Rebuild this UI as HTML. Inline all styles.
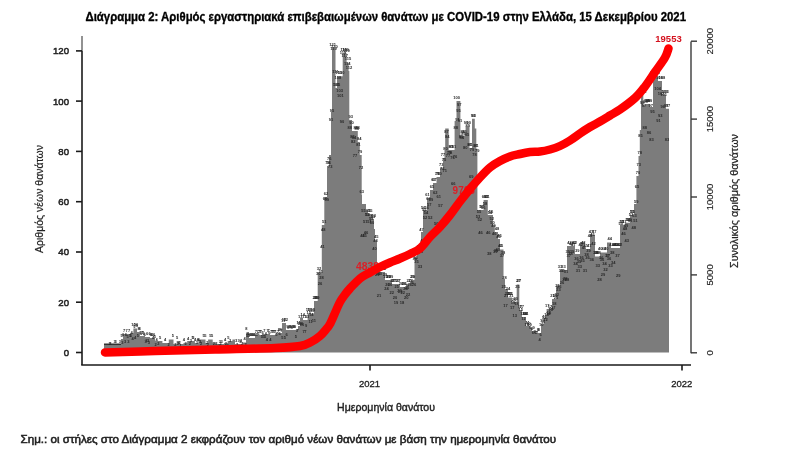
<!DOCTYPE html>
<html><head><meta charset="utf-8"><style>
html,body{margin:0;padding:0;background:#fff;width:800px;height:460px;overflow:hidden}
svg{display:block;filter:blur(0.35px)}
text{font-family:"Liberation Sans",sans-serif}
</style></head><body>
<svg width="800" height="460" viewBox="0 0 800 460">
<rect width="800" height="460" fill="#fff"/>
<text x="85.5" y="21" font-size="13" font-weight="bold" fill="#000" stroke="#000" stroke-width="0.35" textLength="600.5" lengthAdjust="spacingAndGlyphs">Διάγραμμα 2: Αριθμός εργαστηριακά επιβεβαιωμένων θανάτων με COVID-19 στην Ελλάδα, 15 Δεκεμβρίου 2021</text>
<path d="M104,352.5 L104.0,345.5 L121.0,345.5 L121.0,339.0 L123.0,339.0 L123.0,334.0 L130.0,334.0 L130.0,333.0 L133.4,333.0 L133.4,328.4 L137.0,328.4 L137.0,332.0 L140.0,332.0 L140.0,336.0 L145.0,336.0 L145.0,337.0 L150.0,337.0 L150.0,338.0 L155.0,338.0 L155.0,341.0 L159.0,341.0 L159.0,341.0 L162.4,341.0 L162.4,343.0 L166.1,343.0 L166.1,343.0 L168.8,343.0 L168.8,339.5 L173.5,339.5 L173.5,344.0 L176.7,344.0 L176.7,341.0 L179.7,341.0 L179.7,344.0 L183.5,344.0 L183.5,343.0 L187.2,343.0 L187.2,341.0 L190.3,341.0 L190.3,341.0 L194.9,341.0 L194.9,343.0 L198.4,343.0 L198.4,339.5 L202.6,339.5 L202.6,339.5 L205.5,339.5 L205.5,343.0 L208.1,343.0 L208.1,339.5 L212.7,339.5 L212.7,342.5 L216.3,342.5 L216.3,344.0 L220.6,344.0 L220.6,344.0 L224.1,344.0 L224.1,343.0 L227.7,343.0 L227.7,341.0 L232.4,341.0 L232.4,339.5 L235.0,339.5 L235.0,344.0 L238.1,344.0 L238.1,344.0 L242.5,344.0 L242.5,342.5 L246.0,342.5 L246.0,332.6 L249.0,332.6 L249.0,338.0 L255.0,338.0 L255.0,335.0 L262.0,335.0 L262.0,334.0 L270.0,334.0 L270.0,335.0 L278.0,335.0 L278.0,333.0 L282.0,333.0 L282.0,323.0 L286.0,323.0 L286.0,330.0 L292.0,330.0 L292.0,330.0 L298.0,330.0 L298.0,326.0 L300.0,326.0 L300.0,318.0 L303.0,318.0 L303.0,320.0 L307.6,320.0 L307.6,313.6 L314.0,313.6 L314.0,301.0 L317.7,301.0 L317.7,272.5 L321.8,272.5 L321.8,225.0 L324.3,225.0 L324.3,197.0 L327.0,197.0 L327.0,166.0 L329.0,166.0 L329.0,155.0 L331.0,155.0 L331.0,112.0 L332.0,112.0 L332.0,48.0 L335.5,48.0 L335.5,88.0 L337.0,88.0 L337.0,76.2 L342.7,76.2 L342.7,53.3 L346.6,53.3 L346.6,62.5 L348.6,62.5 L348.6,71.0 L349.3,71.0 L349.3,120.0 L352.0,120.0 L352.0,131.0 L357.8,131.0 L357.8,142.0 L359.8,142.0 L359.8,155.0 L361.7,155.0 L361.7,195.0 L362.0,195.0 L362.0,204.0 L366.0,204.0 L366.0,210.0 L368.0,210.0 L368.0,214.0 L372.6,214.0 L372.6,219.0 L374.0,219.0 L374.0,229.0 L375.0,229.0 L375.0,240.0 L377.0,240.0 L377.0,272.0 L385.0,272.0 L385.0,280.0 L392.0,280.0 L392.0,284.0 L400.0,284.0 L400.0,287.0 L406.0,287.0 L406.0,284.0 L411.0,284.0 L411.0,280.0 L414.5,280.0 L414.5,258.0 L417.0,258.0 L417.0,250.0 L421.0,250.0 L421.0,232.0 L423.0,232.0 L423.0,210.0 L427.0,210.0 L427.0,198.0 L430.0,198.0 L430.0,190.0 L433.0,190.0 L433.0,183.0 L436.5,183.0 L436.5,177.0 L440.0,177.0 L440.0,168.0 L443.0,168.0 L443.0,158.0 L444.5,158.0 L444.5,150.0 L445.2,150.0 L445.2,128.5 L448.7,128.5 L448.7,150.0 L454.6,150.0 L454.6,121.0 L456.5,121.0 L456.5,101.0 L460.4,101.0 L460.4,135.6 L465.6,135.6 L465.6,126.5 L469.5,126.5 L469.5,148.0 L472.0,148.0 L472.0,118.7 L474.8,118.7 L474.8,128.5 L476.3,128.5 L476.3,148.7 L477.4,148.7 L477.4,210.0 L483.6,210.0 L483.6,200.0 L487.8,200.0 L487.8,215.0 L493.0,215.0 L493.0,225.0 L494.8,225.0 L494.8,232.0 L498.0,232.0 L498.0,239.0 L500.0,239.0 L500.0,249.6 L503.5,249.6 L503.5,279.0 L505.0,279.0 L505.0,289.0 L508.0,289.0 L508.0,297.6 L512.0,297.6 L512.0,301.8 L516.7,301.8 L516.7,284.6 L519.3,284.6 L519.3,310.0 L522.0,310.0 L522.0,317.0 L526.0,317.0 L526.0,326.0 L530.0,326.0 L530.0,331.0 L536.0,331.0 L536.0,333.0 L541.0,333.0 L541.0,324.0 L543.7,324.0 L543.7,318.0 L546.6,318.0 L546.6,309.0 L552.0,309.0 L552.0,299.0 L556.0,299.0 L556.0,286.0 L560.0,286.0 L560.0,270.0 L567.0,270.0 L567.0,246.0 L575.0,246.0 L575.0,254.0 L580.0,254.0 L580.0,242.0 L585.0,242.0 L585.0,249.0 L590.0,249.0 L590.0,235.0 L595.0,235.0 L595.0,256.5 L600.0,256.5 L600.0,252.6 L607.0,252.6 L607.0,242.4 L611.0,242.4 L611.0,248.0 L620.0,248.0 L620.0,224.8 L625.0,224.8 L625.0,222.8 L630.0,222.8 L630.0,215.0 L634.0,215.0 L634.0,204.0 L636.4,204.0 L636.4,176.0 L638.5,176.0 L638.5,156.0 L639.8,156.0 L639.8,130.0 L641.0,130.0 L641.0,94.8 L643.3,94.8 L643.3,105.0 L646.0,105.0 L646.0,104.0 L650.0,104.0 L650.0,107.0 L653.0,107.0 L653.0,76.5 L658.0,76.5 L658.0,80.9 L662.0,80.9 L662.0,94.8 L666.0,94.8 L666.0,108.7 L669.0,108.7 L669,352.5 Z" fill="#7c7c7c"/>
<rect x="104" y="343.5" width="17" height="2" fill="#333"/>
<g font-size="4" font-weight="bold" fill="#282828" text-anchor="middle"><text x="109.6" y="345.2">2</text><text x="110.4" y="345.2">2</text><text x="114.7" y="343.3">3</text><text x="115.5" y="343.3">3</text><text x="119.8" y="343.3">3</text><text x="121.5" y="337.1">5</text><text x="122.4" y="343.6">3</text><text x="123.2" y="335.9">6</text><text x="124.1" y="331.8">7</text><text x="125.0" y="342.9">3</text><text x="125.8" y="335.9">6</text><text x="126.7" y="331.8">7</text><text x="127.5" y="337.6">5</text><text x="128.4" y="342.9">3</text><text x="129.2" y="331.8">7</text><text x="130.1" y="336.5">5</text><text x="130.9" y="336.9">5</text><text x="131.8" y="334.1">6</text><text x="132.6" y="340.0">4</text><text x="133.5" y="326.2">10</text><text x="134.4" y="327.9">9</text><text x="135.2" y="339.2">4</text><text x="136.1" y="326.2">10</text><text x="136.9" y="326.8">9</text><text x="137.8" y="336.9">5</text><text x="138.6" y="329.8">8</text><text x="139.5" y="329.8">8</text><text x="140.3" y="333.8">7</text><text x="141.2" y="334.7">6</text><text x="142.1" y="333.8">7</text><text x="142.9" y="333.8">7</text><text x="143.8" y="335.4">6</text><text x="144.6" y="335.5">6</text><text x="145.5" y="342.5">3</text><text x="146.3" y="341.8">3</text><text x="147.2" y="334.8">6</text><text x="148.0" y="342.2">3</text><text x="148.9" y="343.8">3</text><text x="149.7" y="334.8">6</text><text x="150.6" y="335.8">6</text><text x="151.5" y="335.8">6</text><text x="152.3" y="335.8">6</text><text x="153.2" y="339.4">4</text><text x="154.0" y="335.8">6</text><text x="154.9" y="338.1">5</text><text x="155.7" y="345.7">2</text><text x="156.6" y="341.0">4</text><text x="158.3" y="344.9">2</text><text x="160.0" y="338.8">5</text><text x="165.1" y="340.8">4</text><text x="168.6" y="346.4">2</text><text x="172.8" y="337.3">5</text><text x="175.4" y="346.0">2</text><text x="177.1" y="338.8">5</text><text x="178.0" y="344.5">2</text><text x="179.7" y="344.1">2</text><text x="180.5" y="346.9">1</text><text x="183.9" y="340.8">4</text><text x="185.7" y="344.8">2</text><text x="188.2" y="340.1">4</text><text x="189.9" y="344.9">2</text><text x="190.8" y="342.4">3</text><text x="192.5" y="338.8">5</text><text x="193.4" y="338.8">5</text><text x="195.1" y="341.2">4</text><text x="196.8" y="343.5">3</text><text x="197.6" y="340.8">4</text><text x="198.5" y="341.1">4</text><text x="200.2" y="342.5">3</text><text x="201.0" y="345.1">2</text><text x="203.6" y="337.3">5</text><text x="205.3" y="337.3">5</text><text x="207.0" y="344.4">2</text><text x="207.9" y="346.2">2</text><text x="210.4" y="337.3">5</text><text x="212.2" y="337.4">5</text><text x="213.9" y="344.8">2</text><text x="216.4" y="345.1">2</text><text x="219.0" y="346.7">1</text><text x="219.9" y="343.3">3</text><text x="220.7" y="344.8">2</text><text x="221.6" y="342.9">3</text><text x="225.0" y="340.8">4</text><text x="225.8" y="344.7">2</text><text x="227.6" y="346.5">2</text><text x="228.4" y="338.8">5</text><text x="230.1" y="341.5">3</text><text x="236.1" y="341.8">3</text><text x="237.0" y="345.6">2</text><text x="238.7" y="341.8">3</text><text x="240.4" y="343.2">3</text><text x="241.2" y="341.8">3</text><text x="242.1" y="344.7">2</text><text x="244.7" y="340.3">4</text><text x="245.5" y="346.3">2</text><text x="246.4" y="330.4">8</text><text x="247.2" y="336.7">5</text><text x="248.1" y="334.7">6</text><text x="248.9" y="337.2">5</text><text x="249.8" y="335.8">6</text><text x="250.6" y="335.8">6</text><text x="251.5" y="336.0">6</text><text x="252.3" y="335.8">6</text><text x="253.2" y="335.8">6</text><text x="254.1" y="335.8">6</text><text x="254.9" y="335.8">6</text><text x="255.8" y="332.8">7</text><text x="256.6" y="335.7">6</text><text x="257.5" y="332.8">7</text><text x="258.3" y="335.2">6</text><text x="259.2" y="332.8">7</text><text x="260.0" y="332.8">7</text><text x="260.9" y="332.8">7</text><text x="261.8" y="337.8">5</text><text x="262.6" y="334.4">6</text><text x="263.5" y="338.3">5</text><text x="264.3" y="331.8">7</text><text x="265.2" y="338.3">5</text><text x="266.0" y="334.8">6</text><text x="266.9" y="341.2">4</text><text x="267.7" y="332.2">7</text><text x="268.6" y="331.8">7</text><text x="269.4" y="334.1">6</text><text x="270.3" y="341.0">4</text><text x="271.2" y="332.8">7</text><text x="272.0" y="332.8">7</text><text x="272.9" y="332.8">7</text><text x="273.7" y="332.8">7</text><text x="274.6" y="332.9">7</text><text x="275.4" y="332.8">7</text><text x="276.3" y="336.4">6</text><text x="277.1" y="335.1">6</text><text x="278.0" y="332.8">7</text><text x="278.8" y="330.8">8</text><text x="279.7" y="335.3">6</text><text x="280.6" y="330.8">8</text><text x="281.4" y="332.1">7</text><text x="282.3" y="338.5">5</text><text x="283.1" y="321.5">11</text><text x="284.0" y="320.8">12</text><text x="284.8" y="338.5">5</text><text x="285.7" y="320.8">12</text><text x="286.5" y="335.7">6</text><text x="287.4" y="327.8">9</text><text x="288.3" y="329.1">8</text><text x="289.1" y="327.8">9</text><text x="290.0" y="327.8">9</text><text x="290.8" y="327.8">9</text><text x="291.7" y="329.2">8</text><text x="292.5" y="327.8">9</text><text x="293.4" y="327.8">9</text><text x="294.2" y="328.2">9</text><text x="295.1" y="327.8">9</text><text x="295.9" y="337.7">5</text><text x="296.8" y="332.4">7</text><text x="297.7" y="331.6">7</text><text x="298.5" y="323.8">11</text><text x="299.4" y="325.2">10</text><text x="300.2" y="317.8">13</text><text x="301.1" y="325.3">10</text><text x="301.9" y="325.6">10</text><text x="302.8" y="315.8">14</text><text x="303.6" y="333.2">7</text><text x="304.5" y="318.2">13</text><text x="305.4" y="332.6">7</text><text x="306.2" y="326.5">9</text><text x="307.1" y="318.1">13</text><text x="307.9" y="311.4">15</text><text x="308.8" y="313.6">15</text><text x="309.6" y="311.4">15</text><text x="310.5" y="323.1">11</text><text x="311.3" y="315.9">14</text><text x="312.2" y="312.1">15</text><text x="313.1" y="311.4">15</text><text x="313.9" y="322.4">11</text><text x="314.8" y="299.0">20</text><text x="315.6" y="298.8">20</text><text x="316.5" y="298.9">20</text><text x="317.3" y="298.8">20</text><text x="318.2" y="275.3">30</text><text x="319.0" y="270.3">32</text><text x="319.9" y="285.0">26</text><text x="320.7" y="272.6">31</text><text x="321.6" y="279.1">28</text><text x="322.5" y="247.9">41</text><text x="323.3" y="230.8">48</text><text x="324.2" y="222.8">51</text><text x="325.0" y="199.5">60</text><text x="325.9" y="194.8">62</text><text x="326.7" y="201.1">59</text><text x="327.6" y="163.8">74</text><text x="328.4" y="164.3">74</text><text x="329.3" y="160.3">76</text><text x="330.2" y="167.6">73</text><text x="331.0" y="120.7">91</text><text x="331.9" y="112.1">95</text><text x="332.7" y="45.8">121</text><text x="333.6" y="50.1">119</text><text x="334.4" y="47.6">120</text><text x="335.3" y="72.5">111</text><text x="336.1" y="85.8">105</text><text x="337.0" y="85.8">105</text><text x="337.8" y="79.2">108</text><text x="338.7" y="74.0">110</text><text x="339.6" y="92.2">103</text><text x="340.4" y="96.5">101</text><text x="341.3" y="74.0">110</text><text x="342.1" y="123.4">90</text><text x="343.0" y="53.9">118</text><text x="343.8" y="51.1">119</text><text x="344.7" y="56.6">117</text><text x="345.5" y="51.1">119</text><text x="346.4" y="51.6">119</text><text x="347.2" y="64.6">114</text><text x="348.1" y="60.3">115</text><text x="349.0" y="68.8">112</text><text x="349.8" y="129.1">88</text><text x="350.7" y="117.8">93</text><text x="351.5" y="123.6">90</text><text x="352.4" y="137.9">85</text><text x="353.2" y="143.1">82</text><text x="354.1" y="139.0">84</text><text x="354.9" y="157.1">77</text><text x="355.8" y="129.0">88</text><text x="356.7" y="129.9">88</text><text x="357.5" y="128.8">88</text><text x="358.4" y="146.2">81</text><text x="359.2" y="139.8">84</text><text x="360.1" y="152.9">79</text><text x="360.9" y="168.6">72</text><text x="361.8" y="192.8">63</text><text x="362.6" y="236.5">45</text><text x="363.5" y="211.6">55</text><text x="364.4" y="237.2">45</text><text x="365.2" y="223.2">51</text><text x="366.1" y="234.1">46</text><text x="366.9" y="216.3">53</text><text x="367.8" y="216.4">53</text><text x="368.6" y="211.8">55</text><text x="369.5" y="222.7">51</text><text x="370.3" y="211.8">55</text><text x="371.2" y="219.6">52</text><text x="372.0" y="223.5">50</text><text x="372.9" y="218.3">53</text><text x="373.8" y="216.8">53</text><text x="374.6" y="249.9">40</text><text x="375.5" y="242.3">43</text><text x="376.3" y="237.8">45</text><text x="377.2" y="276.4">29</text><text x="378.0" y="275.0">30</text><text x="378.9" y="297.2">21</text><text x="379.7" y="275.2">30</text><text x="380.6" y="269.8">32</text><text x="381.4" y="269.8">32</text><text x="382.3" y="269.8">32</text><text x="383.2" y="269.8">32</text><text x="384.0" y="269.8">32</text><text x="384.9" y="276.2">29</text><text x="385.7" y="277.8">29</text><text x="386.6" y="290.3">24</text><text x="387.4" y="285.7">26</text><text x="388.3" y="277.8">29</text><text x="389.1" y="277.8">29</text><text x="390.0" y="285.5">26</text><text x="390.9" y="277.8">29</text><text x="391.7" y="294.4">22</text><text x="392.6" y="281.8">27</text><text x="393.4" y="281.8">27</text><text x="394.3" y="281.8">27</text><text x="395.1" y="298.9">20</text><text x="396.0" y="303.8">19</text><text x="396.8" y="288.3">25</text><text x="397.7" y="281.8">27</text><text x="398.6" y="281.8">27</text><text x="399.4" y="292.4">23</text><text x="400.3" y="292.8">23</text><text x="401.1" y="284.8">26</text><text x="402.0" y="304.1">18</text><text x="402.8" y="294.4">22</text><text x="403.7" y="284.9">26</text><text x="404.5" y="284.8">26</text><text x="405.4" y="290.3">24</text><text x="406.2" y="299.4">20</text><text x="407.1" y="288.6">25</text><text x="408.0" y="296.2">22</text><text x="408.8" y="281.8">27</text><text x="409.7" y="285.8">26</text><text x="410.5" y="281.8">27</text><text x="411.4" y="284.1">26</text><text x="412.2" y="277.8">29</text><text x="413.1" y="277.8">29</text><text x="413.9" y="286.0">26</text><text x="414.8" y="259.8">36</text><text x="415.6" y="259.2">36</text><text x="416.5" y="263.3">35</text><text x="417.4" y="254.4">38</text><text x="418.2" y="247.8">41</text><text x="419.1" y="247.8">41</text><text x="419.9" y="267.9">33</text><text x="420.8" y="253.1">39</text><text x="421.6" y="230.9">47</text><text x="422.5" y="241.5">43</text><text x="423.3" y="209.1">56</text><text x="424.2" y="211.1">55</text><text x="425.1" y="219.3">52</text><text x="425.9" y="214.1">54</text><text x="426.8" y="208.5">56</text><text x="427.6" y="195.8">61</text><text x="428.5" y="200.4">60</text><text x="429.3" y="206.0">57</text><text x="430.2" y="218.6">52</text><text x="431.0" y="201.2">59</text><text x="431.9" y="187.8">65</text><text x="432.8" y="234.0">46</text><text x="433.6" y="180.8">67</text><text x="434.5" y="180.8">67</text><text x="435.3" y="193.6">62</text><text x="436.2" y="224.8">50</text><text x="437.0" y="174.8">70</text><text x="437.9" y="174.8">70</text><text x="438.7" y="198.2">61</text><text x="439.6" y="174.8">70</text><text x="440.4" y="206.5">57</text><text x="441.3" y="165.8">73</text><text x="442.2" y="169.8">72</text><text x="443.0" y="155.8">77</text><text x="443.9" y="160.9">75</text><text x="444.7" y="172.3">71</text><text x="445.6" y="149.5">80</text><text x="446.4" y="132.8">87</text><text x="447.3" y="138.3">84</text><text x="448.1" y="157.2">77</text><text x="449.0" y="153.8">78</text><text x="449.9" y="153.9">78</text><text x="450.7" y="147.8">81</text><text x="451.6" y="147.8">81</text><text x="452.4" y="158.6">76</text><text x="453.3" y="185.2">66</text><text x="454.1" y="147.8">81</text><text x="455.0" y="158.1">76</text><text x="455.8" y="128.9">88</text><text x="456.7" y="98.8">100</text><text x="457.5" y="120.5">91</text><text x="458.4" y="111.8">95</text><text x="459.3" y="106.0">97</text><text x="460.1" y="121.7">91</text><text x="461.0" y="137.5">85</text><text x="461.8" y="138.8">84</text><text x="462.7" y="133.4">86</text><text x="463.5" y="134.8">86</text><text x="464.4" y="133.4">86</text><text x="465.2" y="148.8">80</text><text x="466.1" y="124.3">90</text><text x="466.9" y="135.9">85</text><text x="467.8" y="126.9">89</text><text x="468.7" y="124.3">90</text><text x="469.5" y="145.8">81</text><text x="470.4" y="145.8">81</text><text x="471.2" y="178.1">69</text><text x="472.1" y="151.3">79</text><text x="472.9" y="116.5">93</text><text x="473.8" y="116.5">93</text><text x="474.6" y="155.5">78</text><text x="475.5" y="146.5">81</text><text x="476.4" y="146.5">81</text><text x="477.2" y="152.3">79</text><text x="478.1" y="217.5">53</text><text x="478.9" y="212.5">55</text><text x="479.8" y="220.7">52</text><text x="480.6" y="234.1">46</text><text x="481.5" y="207.8">57</text><text x="482.3" y="207.8">57</text><text x="483.2" y="209.2">56</text><text x="484.1" y="197.8">61</text><text x="484.9" y="204.8">58</text><text x="485.8" y="197.8">61</text><text x="486.6" y="197.8">61</text><text x="487.5" y="197.8">61</text><text x="488.3" y="234.3">46</text><text x="489.2" y="254.5">38</text><text x="490.0" y="213.5">54</text><text x="490.9" y="212.8">55</text><text x="491.7" y="219.8">52</text><text x="492.6" y="224.4">50</text><text x="493.5" y="226.6">49</text><text x="494.3" y="235.1">46</text><text x="495.2" y="252.9">39</text><text x="496.0" y="251.5">39</text><text x="496.9" y="229.8">48</text><text x="497.7" y="250.5">40</text><text x="498.6" y="237.6">45</text><text x="499.4" y="236.8">45</text><text x="500.3" y="247.4">41</text><text x="501.1" y="247.4">41</text><text x="502.0" y="257.0">37</text><text x="502.9" y="254.1">38</text><text x="503.7" y="287.7">25</text><text x="504.6" y="279.4">28</text><text x="505.4" y="307.3">17</text><text x="506.3" y="297.1">21</text><text x="507.1" y="294.5">22</text><text x="508.0" y="289.6">24</text><text x="508.8" y="295.4">22</text><text x="509.7" y="295.4">22</text><text x="510.6" y="295.4">22</text><text x="511.4" y="297.0">21</text><text x="512.3" y="308.5">17</text><text x="513.1" y="303.8">19</text><text x="514.0" y="300.7">20</text><text x="514.8" y="317.2">13</text><text x="515.7" y="299.6">20</text><text x="516.5" y="304.8">18</text><text x="517.4" y="288.0">25</text><text x="518.2" y="282.4">27</text><text x="519.1" y="282.4">27</text><text x="520.0" y="307.8">17</text><text x="520.8" y="311.4">15</text><text x="521.7" y="307.8">17</text><text x="522.5" y="314.8">14</text><text x="523.4" y="319.5">12</text><text x="524.2" y="314.8">14</text><text x="525.1" y="314.8">14</text><text x="525.9" y="314.8">14</text><text x="526.8" y="326.3">10</text><text x="527.7" y="323.8">11</text><text x="528.5" y="324.6">10</text><text x="529.4" y="325.9">10</text><text x="530.2" y="328.8">9</text><text x="531.1" y="331.0">8</text><text x="531.9" y="330.0">8</text><text x="532.8" y="334.3">6</text><text x="533.6" y="328.8">9</text><text x="534.5" y="333.1">7</text><text x="535.4" y="334.2">6</text><text x="536.2" y="333.5">7</text><text x="537.1" y="334.0">7</text><text x="537.9" y="330.8">8</text><text x="538.8" y="330.8">8</text><text x="539.6" y="341.2">4</text><text x="540.5" y="336.2">6</text><text x="541.3" y="326.2">10</text><text x="542.2" y="321.8">11</text><text x="543.0" y="322.9">11</text><text x="543.9" y="318.9">13</text><text x="544.8" y="317.7">13</text><text x="545.6" y="320.5">12</text><text x="546.5" y="315.8">14</text><text x="547.3" y="306.9">17</text><text x="548.2" y="315.3">14</text><text x="549.0" y="313.7">15</text><text x="549.9" y="308.4">17</text><text x="550.7" y="311.4">15</text><text x="551.6" y="309.9">16</text><text x="552.4" y="297.2">21</text><text x="553.3" y="308.8">17</text><text x="554.2" y="305.0">18</text><text x="555.0" y="296.8">21</text><text x="555.9" y="298.7">21</text><text x="556.7" y="295.5">22</text><text x="557.6" y="287.1">25</text><text x="558.4" y="291.2">23</text><text x="559.3" y="288.2">25</text><text x="560.1" y="267.8">33</text><text x="561.0" y="272.2">31</text><text x="561.9" y="283.9">26</text><text x="562.7" y="272.1">31</text><text x="563.6" y="267.8">33</text><text x="564.4" y="280.8">28</text><text x="565.3" y="279.6">28</text><text x="566.1" y="272.5">31</text><text x="567.0" y="280.5">28</text><text x="567.8" y="252.5">39</text><text x="568.7" y="257.3">37</text><text x="569.5" y="243.8">42</text><text x="570.4" y="254.6">38</text><text x="571.3" y="244.5">42</text><text x="572.1" y="252.7">39</text><text x="573.0" y="246.2">41</text><text x="573.8" y="243.8">42</text><text x="574.7" y="243.8">42</text><text x="575.5" y="264.6">34</text><text x="576.4" y="260.1">36</text><text x="577.2" y="251.8">39</text><text x="578.1" y="271.8">31</text><text x="579.0" y="263.2">35</text><text x="579.8" y="267.6">33</text><text x="580.7" y="245.7">42</text><text x="581.5" y="259.2">36</text><text x="582.4" y="262.1">35</text><text x="583.2" y="243.7">42</text><text x="584.1" y="248.8">40</text><text x="584.9" y="272.0">31</text><text x="585.8" y="246.8">41</text><text x="586.6" y="255.5">38</text><text x="587.5" y="259.2">36</text><text x="588.4" y="252.2">39</text><text x="589.2" y="246.8">41</text><text x="590.1" y="237.2">45</text><text x="590.9" y="232.8">47</text><text x="591.8" y="260.9">36</text><text x="592.6" y="235.9">46</text><text x="593.5" y="244.5">42</text><text x="594.3" y="232.8">47</text><text x="595.2" y="254.3">38</text><text x="596.1" y="254.3">38</text><text x="596.9" y="254.3">38</text><text x="597.8" y="267.0">33</text><text x="598.6" y="254.3">38</text><text x="599.5" y="281.2">28</text><text x="600.3" y="250.4">40</text><text x="601.2" y="259.2">36</text><text x="602.0" y="260.6">36</text><text x="602.9" y="276.3">29</text><text x="603.7" y="250.4">40</text><text x="604.6" y="264.6">34</text><text x="605.5" y="270.5">32</text><text x="606.3" y="250.4">40</text><text x="607.2" y="256.7">37</text><text x="608.0" y="256.5">37</text><text x="608.9" y="259.8">36</text><text x="609.7" y="240.2">44</text><text x="610.6" y="266.7">33</text><text x="611.4" y="245.8">42</text><text x="612.3" y="253.9">38</text><text x="613.2" y="264.3">34</text><text x="614.0" y="245.8">42</text><text x="614.9" y="245.8">42</text><text x="615.7" y="245.8">42</text><text x="616.6" y="245.8">42</text><text x="617.4" y="256.9">37</text><text x="618.3" y="276.7">29</text><text x="619.1" y="245.8">42</text><text x="620.0" y="245.8">42</text><text x="620.8" y="225.3">50</text><text x="621.7" y="222.6">51</text><text x="622.6" y="222.6">51</text><text x="623.4" y="234.5">46</text><text x="624.3" y="222.6">51</text><text x="625.1" y="230.1">48</text><text x="626.0" y="227.1">49</text><text x="626.8" y="242.4">43</text><text x="627.7" y="220.6">52</text><text x="628.5" y="221.0">51</text><text x="629.4" y="220.6">52</text><text x="630.3" y="222.3">51</text><text x="631.1" y="216.2">53</text><text x="632.0" y="212.8">55</text><text x="632.8" y="212.8">55</text><text x="633.7" y="229.4">48</text><text x="634.5" y="216.6">53</text><text x="635.4" y="222.0">51</text><text x="636.2" y="203.2">59</text><text x="637.1" y="188.1">65</text><text x="637.9" y="173.8">70</text><text x="638.8" y="166.0">73</text><text x="639.7" y="153.8">78</text><text x="640.5" y="136.5">85</text><text x="641.4" y="92.6">103</text><text x="642.2" y="104.4">98</text><text x="643.1" y="92.6">103</text><text x="643.9" y="107.3">97</text><text x="644.8" y="128.7">88</text><text x="645.6" y="102.8">98</text><text x="646.5" y="101.8">99</text><text x="647.4" y="101.8">99</text><text x="648.2" y="101.8">99</text><text x="649.1" y="133.8">86</text><text x="649.9" y="102.3">99</text><text x="650.8" y="107.3">97</text><text x="651.6" y="140.7">83</text><text x="652.5" y="112.8">95</text><text x="653.3" y="74.3">110</text><text x="654.2" y="74.3">110</text><text x="655.0" y="74.3">110</text><text x="655.9" y="74.3">110</text><text x="656.8" y="74.3">110</text><text x="657.6" y="89.8">104</text><text x="658.5" y="121.5">91</text><text x="659.3" y="78.7">108</text><text x="660.2" y="116.8">93</text><text x="661.0" y="94.9">102</text><text x="661.9" y="78.7">108</text><text x="662.7" y="108.2">96</text><text x="663.6" y="96.1">101</text><text x="664.5" y="92.6">103</text><text x="665.3" y="92.6">103</text><text x="666.2" y="106.5">97</text><text x="667.0" y="141.2">83</text><text x="667.9" y="106.5">97</text></g>
<text x="356" y="270.4" font-size="10.3" font-weight="bold" fill="#dc1e26">4838</text>
<text x="452.6" y="194" font-size="10" font-weight="bold" fill="#dc1e26">9765</text>
<path d="M105.0,352.5 C113.3,352.2 136.7,351.5 155.0,351.0 C173.3,350.5 195.0,350.0 215.0,349.5 C235.0,349.0 260.8,348.6 275.0,348.0 C289.2,347.4 294.0,347.0 300.0,346.0 C306.0,345.0 307.7,343.7 311.0,342.0 C314.3,340.3 317.5,338.1 320.0,336.0 C322.5,333.9 324.3,331.5 326.0,329.5 C327.7,327.5 328.5,326.8 330.0,324.0 C331.5,321.2 333.3,316.7 335.0,313.0 C336.7,309.3 338.3,305.1 340.0,302.0 C341.7,298.9 343.3,296.8 345.0,294.5 C346.7,292.2 347.5,291.2 350.0,288.5 C352.5,285.8 356.7,281.2 360.0,278.5 C363.3,275.8 366.7,274.4 370.0,272.5 C373.3,270.6 376.7,268.7 380.0,267.0 C383.3,265.3 386.7,263.9 390.0,262.5 C393.3,261.1 396.7,259.9 400.0,258.5 C403.3,257.1 406.7,255.7 410.0,254.0 C413.3,252.3 416.7,251.3 420.0,248.5 C423.3,245.7 426.7,240.6 430.0,237.0 C433.3,233.4 436.7,230.7 440.0,227.0 C443.3,223.3 446.7,219.2 450.0,215.0 C453.3,210.8 456.7,205.8 460.0,201.5 C463.3,197.2 466.7,193.0 470.0,189.0 C473.3,185.0 476.7,181.1 480.0,177.5 C483.3,173.9 486.7,170.2 490.0,167.5 C493.3,164.8 496.7,162.8 500.0,161.0 C503.3,159.2 506.7,157.7 510.0,156.5 C513.3,155.3 516.7,154.8 520.0,154.0 C523.3,153.2 526.7,152.4 530.0,152.0 C533.3,151.6 536.7,151.9 540.0,151.5 C543.3,151.1 546.7,150.4 550.0,149.5 C553.3,148.6 556.7,147.5 560.0,146.0 C563.3,144.5 566.7,142.6 570.0,140.5 C573.3,138.4 576.7,135.8 580.0,133.5 C583.3,131.2 586.7,129.0 590.0,127.0 C593.3,125.0 596.7,123.4 600.0,121.5 C603.3,119.6 606.7,117.5 610.0,115.5 C613.3,113.5 615.8,112.4 620.0,109.5 C624.2,106.6 630.8,101.8 635.0,98.0 C639.2,94.2 641.7,90.8 645.0,86.5 C648.3,82.2 651.7,76.8 655.0,72.0 C658.3,67.2 662.8,61.4 665.0,57.5 C667.2,53.6 667.9,50.0 668.5,48.5 " fill="none" stroke="#ff0000" stroke-width="8.5" stroke-linecap="round" stroke-linejoin="round"/>
<text x="655.3" y="41.8" font-size="9" font-weight="bold" fill="#d4121e" textLength="26.4" lengthAdjust="spacingAndGlyphs">19553</text>
<g stroke="#1a1a1a" stroke-width="1.6" fill="none">
<line x1="82" y1="50.5" x2="82" y2="365"/><line x1="82" y1="36" x2="82" y2="50.5" stroke="#777"/>
<line x1="81.2" y1="365" x2="691" y2="365"/>
<line x1="370" y1="365" x2="370" y2="370.5"/>
<line x1="682" y1="365" x2="682" y2="370.5"/>
<line x1="76" y1="352.5" x2="82" y2="352.5"/><line x1="76" y1="302.2" x2="82" y2="302.2"/><line x1="76" y1="252.0" x2="82" y2="252.0"/><line x1="76" y1="201.7" x2="82" y2="201.7"/><line x1="76" y1="151.4" x2="82" y2="151.4"/><line x1="76" y1="101.1" x2="82" y2="101.1"/><line x1="76" y1="50.9" x2="82" y2="50.9"/>
</g>
<g stroke="#333" stroke-width="1.35" fill="none">
<line x1="691" y1="41.5" x2="691" y2="353.3"/>
<line x1="691" y1="352.8" x2="697" y2="352.8"/><line x1="691" y1="274.9" x2="697" y2="274.9"/><line x1="691" y1="197.0" x2="697" y2="197.0"/><line x1="691" y1="119.1" x2="697" y2="119.1"/><line x1="691" y1="41.2" x2="697" y2="41.2"/>
</g>
<g font-size="9.6" fill="#222" stroke="#222" stroke-width="0.5" text-anchor="end"><text x="69" y="355.9">0</text><text x="69" y="305.6">20</text><text x="69" y="255.4">40</text><text x="69" y="205.1">60</text><text x="69" y="154.8">80</text><text x="69" y="104.5">100</text><text x="69" y="54.3">120</text></g>
<g font-size="9.5" fill="#222" stroke="#222" stroke-width="0.15" text-anchor="middle"><text transform="translate(712.5,352.8) rotate(-90)">0</text><text transform="translate(712.5,274.9) rotate(-90)">5000</text><text transform="translate(712.5,197.0) rotate(-90)">10000</text><text transform="translate(712.5,119.1) rotate(-90)">15000</text><text transform="translate(712.5,41.2) rotate(-90)">20000</text></g>
<text transform="translate(42.5,199) rotate(-90)" font-size="10.5" fill="#222" stroke="#222" stroke-width="0.2" text-anchor="middle" textLength="108" lengthAdjust="spacingAndGlyphs">Αριθμός νέων θανάτων</text>
<text transform="translate(737.5,201) rotate(-90)" font-size="10.5" fill="#222" stroke="#222" stroke-width="0.2" text-anchor="middle" textLength="134" lengthAdjust="spacingAndGlyphs">Συνολικός αριθμός θανάτων</text>
<text x="369.5" y="386.5" font-size="9.5" fill="#222" stroke="#222" stroke-width="0.3" text-anchor="middle">2021</text>
<text x="681.7" y="386.5" font-size="9.5" fill="#222" stroke="#222" stroke-width="0.3" text-anchor="middle">2022</text>
<text x="337" y="410.5" font-size="11" fill="#222" stroke="#222" stroke-width="0.4" textLength="98" lengthAdjust="spacingAndGlyphs">Ημερομηνία θανάτου</text>
<text x="20.5" y="442.5" font-size="11.5" fill="#1e1e1e" stroke="#1e1e1e" stroke-width="0.55" textLength="535.5" lengthAdjust="spacingAndGlyphs">Σημ.: οι στήλες στο Διάγραμμα 2 εκφράζουν τον αριθμό νέων θανάτων με βάση την ημερομηνία θανάτου</text>
</svg>
</body></html>
